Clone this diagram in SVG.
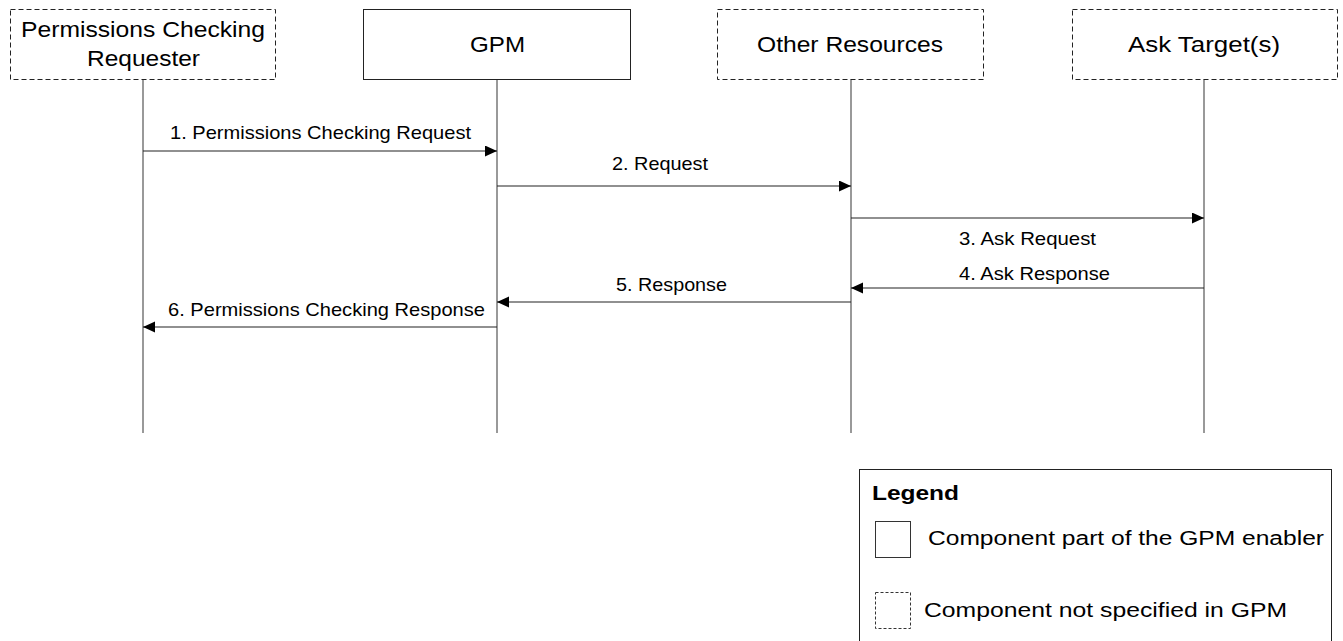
<svg xmlns="http://www.w3.org/2000/svg" width="1343" height="641" viewBox="0 0 1343 641">
<style>
.t{font-family:"Liberation Sans",Arial,sans-serif;fill:#000}
.title{font-size:21.5px}
.lbl{font-size:19px}
.box{fill:#fff;stroke:#222;stroke-width:1}
.dash{stroke-dasharray:5,3}
.life{stroke:#555;stroke-width:1.2;fill:none}
.msg{stroke:#222;stroke-width:1.2;fill:none;marker-end:url(#ah)}
</style>
<defs>
<marker id="ah" markerUnits="userSpaceOnUse" markerWidth="13" markerHeight="12" refX="12" refY="5.5" orient="auto">
<path d="M0,0 L12,5.5 L0,11 z" fill="#000"/>
</marker>
</defs>
<rect width="1343" height="641" fill="#fff"/>
<g id="lifelines">
<line class="life" x1="143" y1="79" x2="143" y2="433"/>
<line class="life" x1="497" y1="79" x2="497" y2="433"/>
<line class="life" x1="851" y1="79" x2="851" y2="433"/>
<line class="life" x1="1204" y1="79" x2="1204" y2="433"/>
</g>
<g id="node-requester">
<rect class="box dash" x="10.5" y="9.5" width="265" height="70"/>
<text class="t title" x="21" y="37" textLength="244" lengthAdjust="spacingAndGlyphs">Permissions Checking</text>
<text class="t title" x="87" y="66" textLength="113" lengthAdjust="spacingAndGlyphs">Requester</text>
</g>
<g id="node-gpm">
<rect class="box" x="363.5" y="9.5" width="267" height="70"/>
<text class="t title" x="470" y="52" textLength="55" lengthAdjust="spacingAndGlyphs">GPM</text>
</g>
<g id="node-other">
<rect class="box dash" x="717.5" y="9.5" width="266" height="70"/>
<text class="t title" x="757" y="52" textLength="186" lengthAdjust="spacingAndGlyphs">Other Resources</text>
</g>
<g id="node-ask">
<rect class="box dash" x="1072.5" y="9.5" width="265" height="70"/>
<text class="t title" x="1128" y="52" textLength="152" lengthAdjust="spacingAndGlyphs">Ask Target(s)</text>
</g>
<g id="connectors">
<line class="msg" x1="143" y1="151" x2="497" y2="151"/>
<line class="msg" x1="497" y1="186" x2="851" y2="186"/>
<line class="msg" x1="851" y1="218" x2="1204" y2="218"/>
<line class="msg" x1="1204" y1="288" x2="851" y2="288"/>
<line class="msg" x1="851" y1="302" x2="497" y2="302"/>
<line class="msg" x1="497" y1="327" x2="143" y2="327"/>
<text class="t lbl" x="170" y="139" textLength="301" lengthAdjust="spacingAndGlyphs">1. Permissions Checking Request</text>
<text class="t lbl" x="612" y="170" textLength="96" lengthAdjust="spacingAndGlyphs">2. Request</text>
<text class="t lbl" x="959" y="245" textLength="137" lengthAdjust="spacingAndGlyphs">3. Ask Request</text>
<text class="t lbl" x="959" y="280" textLength="151" lengthAdjust="spacingAndGlyphs">4. Ask Response</text>
<text class="t lbl" x="616" y="291" textLength="111" lengthAdjust="spacingAndGlyphs">5. Response</text>
<text class="t lbl" x="168" y="316" textLength="317" lengthAdjust="spacingAndGlyphs">6. Permissions Checking Response</text>
</g>
<g id="legend">
<rect x="859.5" y="469.5" width="472" height="180" fill="#fff" stroke="#222" stroke-width="1"/>
<text class="t" x="872" y="500" font-size="21" font-weight="bold" textLength="87" lengthAdjust="spacingAndGlyphs">Legend</text>
<rect x="875.5" y="521.5" width="35" height="36" fill="#fff" stroke="#333"/>
<text class="t" x="928" y="545" font-size="20" textLength="396" lengthAdjust="spacingAndGlyphs">Component part of the GPM enabler</text>
<rect x="875.5" y="592.5" width="35" height="36" fill="#fff" stroke="#333" stroke-dasharray="3,2"/>
<text class="t" x="924" y="617" font-size="20" textLength="363" lengthAdjust="spacingAndGlyphs">Component not specified in GPM</text>
</g>
</svg>
